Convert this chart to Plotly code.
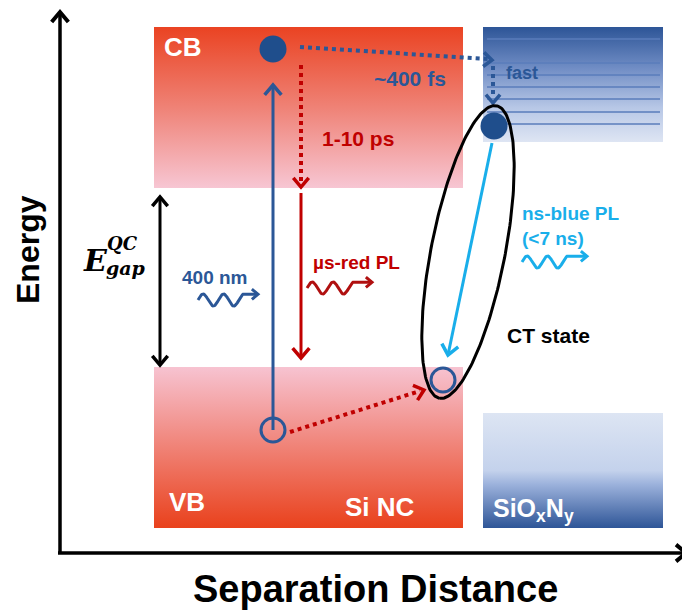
import numpy as np
import plotly.graph_objects as go

# ---- diagram values (pixel-like schematic units) ----
sinc_x = [154, 463]
sinc_cb_y = [27, 188]
sinc_vb_y = [367, 528]
sioxny_x = [483, 663]
sioxny_cb_y = [27, 142]
sioxny_vb_y = [413, 528]
trap_levels = [39, 63, 75, 87, 99, 112, 124]
trap_x = [487, 660]
electron_pts = [(273, 49), (494, 126)]
hole_pts = [(273, 430), (443, 380)]

RED = "#C00000"
DBLUE = "#2B5797"
EBLUE = "#1F4E8C"
CYAN = "#19AEEA"
FONT = "Arial, Liberation Sans, sans-serif"

fig = go.Figure()


def grad_rect(x, y, scale):
    fig.add_trace(go.Scatter(
        x=[x[0], x[1], x[1], x[0], x[0]], y=[y[0], y[0], y[1], y[1], y[0]],
        mode="lines", line=dict(width=0), fill="toself",
        fillgradient=dict(type="vertical", colorscale=scale, start=y[0], stop=y[1]),
        hoverinfo="skip"))


def line(xs, ys, color, width=3, dash="solid"):
    fig.add_trace(go.Scatter(x=xs, y=ys, mode="lines",
                             line=dict(color=color, width=width, dash=dash),
                             hoverinfo="skip"))


def chevron(tip, frm, color, width=3, size=11, ang=40):
    tx, ty = tip
    dx, dy = tx - frm[0], ty - frm[1]
    n = np.hypot(dx, dy)
    dx, dy = dx / n, dy / n
    pts = []
    for s in (1, -1):
        a = np.radians(ang) * s
        rx = dx * np.cos(a) - dy * np.sin(a)
        ry = dx * np.sin(a) + dy * np.cos(a)
        pts.append((tx - size * rx, ty - size * ry))
    line([pts[0][0], tx, pts[1][0]], [pts[0][1], ty, pts[1][1]], color, width)


def arrow(frm, tip, color, width=3, size=11):
    line([frm[0], tip[0]], [frm[1], tip[1]], color, width)
    chevron(tip, frm, color, width + 0.5, size)


def wave(x0, x1, tip, y, color):
    t = np.linspace(0, 1, 80)
    xs = x0 + (x1 - x0) * t
    ys = y - 6 * np.sin(2 * np.pi * 2.2 * t)
    xs = np.append(xs, tip)
    ys = np.append(ys, ys[-1])
    line(list(xs), list(ys), color, 3)
    chevron((tip, ys[-1]), (x1, ys[-1]), color, 3, 8)


# bands
red_down = [[0, "#EA4322"], [0.5, "#EF8276"], [1, "#F7C6D3"]]
red_up = [[0, "#F7C3D1"], [0.5, "#F08276"], [1, "#E9411C"]]
grad_rect(sinc_x, sinc_cb_y, red_down)
grad_rect(sinc_x, sinc_vb_y, red_up)
grad_rect(sioxny_x, sioxny_cb_y, [[0, "#2D5597"], [0.35, "#6F8CC4"], [0.7, "#B7C7E6"], [1, "#DEE5F3"]])
grad_rect(sioxny_x, sioxny_vb_y, [[0, "#DDE5F3"], [0.5, "#C4D2EC"], [0.62, "#9CB2DC"], [1, "#2E5597"]])

for lv in trap_levels:
    line(trap_x, [lv, lv], "#5A7DBB", 1.5)

# axes
arrow((60, 553), (60, 12), "black", 3.5, size=13)
arrow((58, 553), (686, 553), "black", 3.5, size=13)

# gap double arrow
arrow((160, 280), (160, 197), "black", 3, size=12)
arrow((160, 280), (160, 365), "black", 3, size=12)

# excitation arrow
arrow(hole_pts[0], (273, 85), DBLUE, 3, size=13)
# red relaxation
line([301, 301], [65, 182], RED, 4, "4px,4px")
chevron((301, 187), (301, 65), RED, 3.5, 12)
arrow((301, 193), (301, 358), RED, 3, size=13)
# hole transfer dotted
line([290, 420], [432, 391], RED, 4, "4px,4px")
chevron((424, 390), (290, 432), RED, 3.5, 12)
# electron transfer dotted
line([300, 488], [47, 59], DBLUE, 4, "4px,4px")
chevron((492, 60), (300, 47), DBLUE, 3.5, 11)
line([493, 493], [66, 98], DBLUE, 4, "4px,4px")
chevron((493, 103), (493, 60), DBLUE, 3.5, 11)
# blue PL
arrow((492, 143), (448, 355), CYAN, 3, size=13)

# CT ellipse
tt = np.linspace(0, 2 * np.pi, 200)
c = np.array([468.0, 252.0])
u = np.array([-57.0, 292.0]); u /= np.linalg.norm(u)
v = np.array([u[1], -u[0]])
a_, b_ = 149, 37
ex = c[0] + a_ * np.cos(tt) * u[0] + b_ * np.sin(tt) * v[0]
ey = c[1] + a_ * np.cos(tt) * u[1] + b_ * np.sin(tt) * v[1]
line(list(ex), list(ey), "black", 3)

# waves
wave(198, 243, 258, 300, DBLUE)
wave(307, 353, 372, 288, "#B01010")
wave(522, 567, 587, 262, CYAN)

# carriers
fig.add_trace(go.Scatter(x=[p[0] for p in electron_pts], y=[p[1] for p in electron_pts],
                         mode="markers", marker=dict(size=27, color=EBLUE, line=dict(width=0)),
                         hoverinfo="skip"))
fig.add_trace(go.Scatter(x=[p[0] for p in hole_pts], y=[p[1] for p in hole_pts],
                         mode="markers", marker=dict(size=24, color="rgba(0,0,0,0)",
                                                     line=dict(width=3, color=DBLUE)),
                         hoverinfo="skip"))


def txt(x, y, s, size, color, anchor="center", family=FONT, angle=0):
    fig.add_annotation(x=x, y=y, text=s, showarrow=False, xanchor=anchor, yanchor="middle",
                       font=dict(family=family, size=size, color=color), textangle=angle)


txt(162, 47, "<b>CB</b>", 26, "white", anchor="left")
txt(167, 502, "<b>VB</b>", 26, "white", anchor="left")
txt(343, 507, "<b>Si NC</b>", 26, "white", anchor="left")
txt(491, 510, "<b>SiO<sub>x</sub>N<sub>y</sub></b>", 25, "white", anchor="left")
txt(372, 78, "<b>~400 fs</b>", 21, DBLUE, anchor="left")
txt(504, 73, "<b>fast</b>", 18, DBLUE, anchor="left")
txt(320, 138, "<b>1-10 ps</b>", 21, RED, anchor="left")
txt(180, 277, "<b>400 nm</b>", 19, DBLUE, anchor="left")
txt(311, 262, "<b>\u00b5s-red PL</b>", 19, RED, anchor="left")
txt(520, 213, "<b>ns-blue PL</b>", 19, CYAN, anchor="left")
txt(520, 238, "<b>(&lt;7 ns)</b>", 19, CYAN, anchor="left")
txt(505, 335, "<b>CT state</b>", 21, "black", anchor="left")
txt(95, 260, "<b><i>E</i></b>", 30, "black", family="DejaVu Serif")
txt(105, 243, "<b><i>QC</i></b>", 18, "black", anchor="left", family="DejaVu Serif")
txt(104, 268, "<b><i>gap</i></b>", 19, "black", anchor="left", family="DejaVu Serif")
txt(28, 250, "<b>Energy</b>", 32, "black", angle=-90)
txt(375, 589, "<b>Separation Distance</b>", 38, "black")

# figure sits inside the page's default 8px body margin
fig.update_layout(
    width=682, height=603, margin=dict(l=0, r=0, t=0, b=0),
    paper_bgcolor="white", plot_bgcolor="white", showlegend=False, hovermode=False,
    xaxis=dict(range=[8, 690], visible=False, fixedrange=True),
    yaxis=dict(range=[611, 8], visible=False, fixedrange=True),
)
fig.write_html("out.html")
